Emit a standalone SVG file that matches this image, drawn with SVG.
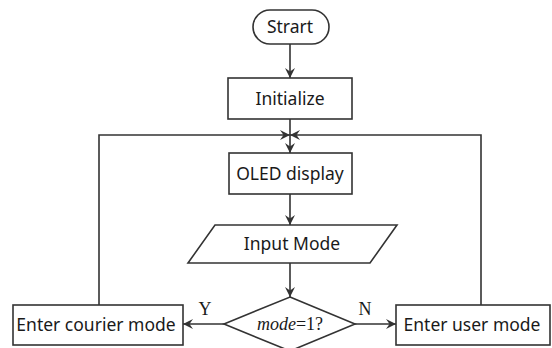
<svg xmlns="http://www.w3.org/2000/svg" width="552" height="348" viewBox="0 0 552 348">
<style>
.box{fill:#fff;stroke:#333;stroke-width:1.6}
.ln{fill:none;stroke:#333;stroke-width:1.6}
.t{font-family:"Noto Sans","Open Sans",sans-serif;font-size:17.5px;fill:#1a1a1a;text-anchor:middle}
.s{font-family:"Liberation Serif","DejaVu Serif",serif;font-size:18px;fill:#1a1a1a}
</style>
<defs>
<marker id="ar" viewBox="0 0 10 10" refX="10" refY="5" markerWidth="10" markerHeight="10" markerUnits="userSpaceOnUse" orient="auto">
<path d="M0,0 L10,5 L0,10 L3.5,5 Z" fill="#333"/>
</marker>
</defs>
<g id="connectors">
<line class="ln" x1="290" y1="44" x2="290" y2="78" marker-end="url(#ar)"/>
<line class="ln" x1="290" y1="119" x2="290" y2="153" marker-end="url(#ar)"/>
<line class="ln" x1="290" y1="194" x2="290" y2="225" marker-end="url(#ar)"/>
<line class="ln" x1="290" y1="263" x2="290" y2="297" marker-end="url(#ar)"/>
<line class="ln" x1="224" y1="324" x2="183" y2="324" marker-end="url(#ar)"/>
<line class="ln" x1="355" y1="324" x2="396" y2="324" marker-end="url(#ar)"/>
<polyline class="ln" points="99,305 99,135 290,135" marker-end="url(#ar)"/>
<polyline class="ln" points="481,305 481,135 290,135" marker-end="url(#ar)"/>
<text class="s" x="205" y="315" text-anchor="middle">Y</text>
<text class="s" x="365" y="315" text-anchor="middle">N</text>
</g>
<g id="start">
<rect class="box" x="253" y="10" width="76" height="34" rx="17"/>
<text class="t" x="290" y="33">Strart</text>
</g>
<g id="initialize">
<rect class="box" x="228" y="78" width="124" height="41"/>
<text class="t" x="290" y="105">Initialize</text>
</g>
<g id="oled">
<rect class="box" x="229" y="153" width="123" height="41"/>
<text class="t" x="290" y="180">OLED display</text>
</g>
<g id="input">
<polygon class="box" points="215,225 397,225 370,263 188,263"/>
<text class="t" x="292" y="250">Input Mode</text>
</g>
<g id="decision">
<polygon class="box" points="290,297 355,324 290,351 224,324"/>
<text class="s" x="290" y="330" text-anchor="middle"><tspan font-style="italic">mode</tspan>=1?</text>
</g>
<g id="courier">
<rect class="box" x="13" y="305" width="170" height="40"/>
<text class="t" x="96" y="331">Enter courier mode</text>
</g>
<g id="user">
<rect class="box" x="396" y="305" width="154" height="40"/>
<text class="t" x="472" y="331">Enter user mode</text>
</g>
</svg>
